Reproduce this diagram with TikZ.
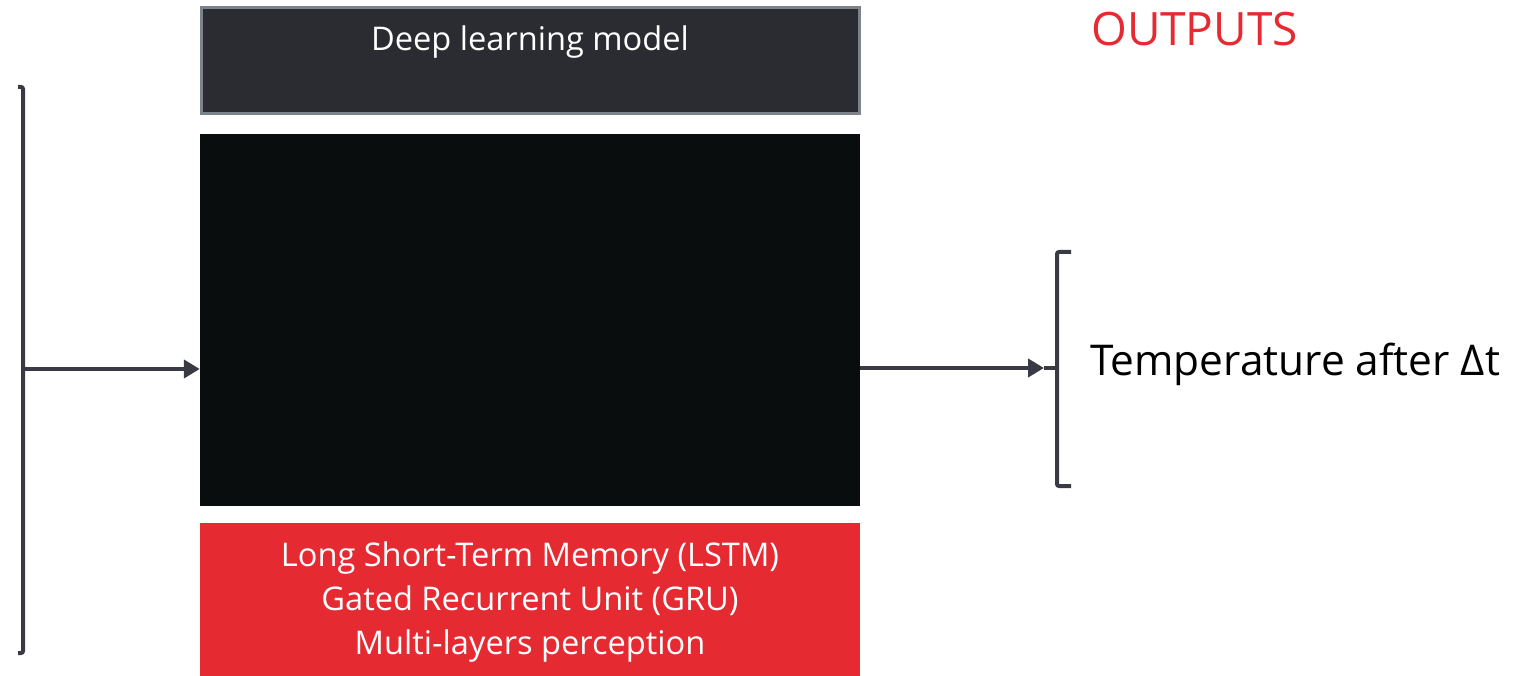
\documentclass[tikz,border=0pt]{standalone}
\usepackage{fontspec}
\setmainfont{Open Sans}
\usetikzlibrary{arrows.meta, positioning}
\definecolor{modelgray}{HTML}{2B2C31}
\definecolor{framegray}{HTML}{7C838A}
\definecolor{screenblack}{HTML}{0A0D0D}
\definecolor{netred}{HTML}{E52A32}
\definecolor{linegray}{HTML}{3A3A44}
\tikzset{
  bracketline/.style={draw=linegray, line width=4pt, rounded corners=2pt},
  flowarrow/.style={draw=linegray, line width=4pt, -{Triangle[length=16pt,width=18pt]}},
  boxtext/.style={text=white, font=\fontsize{32.6}{44}\selectfont, align=center}
}
\begin{document}
\begin{tikzpicture}[x=1pt,y=-1pt]
          \useasboundingbox (0,0) rectangle (1516,676);
          % Model title
          \node[draw=framegray, line width=3pt, fill=modelgray, minimum width=658pt, minimum height=106pt] (title) at (530,61) {};
          \node[boxtext] (titletext) at (530,42) {Deep learning model};
          % Model
          \node[fill=screenblack, minimum width=660pt, minimum height=372pt, inner sep=0pt] (model) at (530,320) {};
          % Networks
          \node[fill=netred, minimum width=660pt, minimum height=159pt, inner sep=0pt, boxtext] (nets) at (530,602.5) {Long Short-Term Memory (LSTM)\\Gated Recurrent Unit (GRU)\\Multi-layers perception};
          % Inputs bracket
          \draw[bracketline] (18,87) -- (23,87) -- (23,653) -- (18,653);
          \coordinate (inmid) at (23,369);
          \draw[flowarrow] (inmid) -- (model.west |- inmid);
          % Outputs bracket
          \draw[bracketline] (1071,252) -- (1057,252) -- (1057,486) -- (1071,486);
          \coordinate (outmid) at (1057,368);
          \coordinate (outtip) at (1044,368);
          \draw[flowarrow] (model.east |- outmid) -- (outtip);
          \draw[draw=linegray, line width=4pt] (outtip) -- (outmid);
          % Labels
          \node[anchor=base west, inner sep=0pt, text=netred, font=\fontsize{46}{56}\selectfont] (outputs) at (1091,46) {OUTPUTS};
          \node[anchor=base west, inner sep=0pt, font=\fontsize{42.4}{50}\selectfont] (temp) at (1090,375) {Temperature after Δt};
        \end{tikzpicture}
\end{document}
